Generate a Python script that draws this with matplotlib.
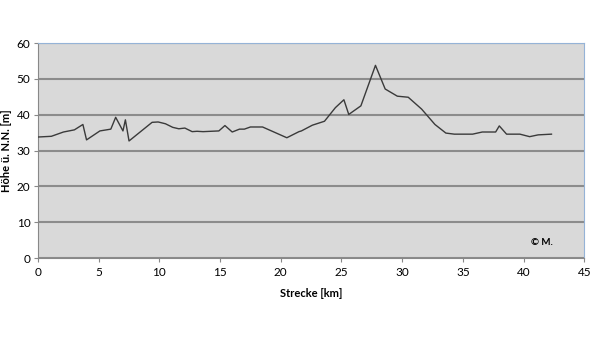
import matplotlib
matplotlib.use("Agg")
import matplotlib.pyplot as plt

# Strecke in km und Höhe in m
strecke = [0.0, 1.1, 2.1, 3.0, 3.7, 4.0, 5.1, 6.0, 6.4, 7.0, 7.2, 7.5,
           9.4, 9.9, 10.5, 11.1, 11.6, 12.1, 12.7, 13.1, 13.6, 14.9, 15.4,
           16.0, 16.6, 17.0, 17.5, 18.5, 20.5, 21.5, 21.7, 22.6, 23.6, 24.5,
           25.2, 25.6, 26.6, 27.8, 28.6, 29.6, 30.5, 31.6, 32.7, 33.6, 34.3,
           35.8, 36.6, 37.7, 38.0, 38.6, 39.7, 40.5, 41.2, 42.3]
hoehe = [33.8, 34.0, 35.2, 35.8, 37.3, 33.0, 35.5, 36.0, 39.3, 35.5, 38.6, 32.7,
         37.9, 38.0, 37.5, 36.5, 36.1, 36.3, 35.3, 35.4, 35.3, 35.5, 37.0,
         35.2, 36.0, 36.0, 36.6, 36.6, 33.6, 35.3, 35.5, 37.1, 38.2, 42.0,
         44.2, 40.1, 42.5, 53.8, 47.2, 45.2, 44.9, 41.6, 37.3, 34.9, 34.6,
         34.6, 35.2, 35.2, 36.9, 34.6, 34.6, 33.9, 34.4, 34.6]
x_ticks = [0, 5, 10, 15, 20, 25, 30, 35, 40, 45]
y_ticks = [0, 10, 20, 30, 40, 50, 60]

plt.rcParams['font.family'] = ['Lato', 'DejaVu Sans']

fig = plt.figure(figsize=(5.99, 3.37), dpi=100)
ax = fig.add_axes([0.0634, 0.234, 0.912, 0.638])
ax.set_facecolor('#d9d9d9')

ax.plot(strecke, hoehe, color='#3a3a3a', linewidth=1.0, zorder=3)

ax.set_xlim(0, 45)
ax.set_ylim(0, 60)
ax.set_xticks(x_ticks)
ax.set_yticks(y_ticks)
ax.tick_params(labelsize=8.5, length=3, color='#888888', direction='out')
ax.tick_params(axis='y', pad=2.5)
ax.yaxis.grid(True, color='#8c8c8c', linewidth=1.5)
ax.set_axisbelow(True)

ax.spines['left'].set_color('#888888')
ax.spines['bottom'].set_color('#888888')
ax.spines['top'].set_color('#95b3d7')
ax.spines['right'].set_color('#95b3d7')

ax.set_xlabel('Strecke [km]', fontsize=8, fontweight='bold')
ax.set_ylabel('Höhe ü. N.N. [m]', fontsize=8, fontweight='bold')
ax.xaxis.set_label_coords(0.5, -0.14)
ax.yaxis.set_label_coords(-0.057, 0.5)
ax.yaxis.label.set_va('center')

ax.text(41.5, 4.3, '© M.', fontsize=7, fontweight='bold', ha='center', va='center')

fig.savefig('out.png', dpi=100)
